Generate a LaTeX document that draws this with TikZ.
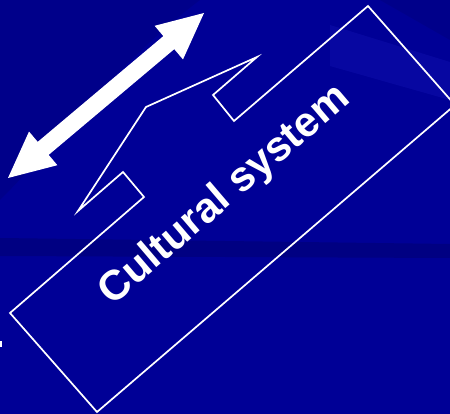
\documentclass[tikz,border=0pt]{standalone}
\usepackage{fontspec}
\setmainfont{Liberation Sans}
\usetikzlibrary{calc}
\definecolor{bgbase}{HTML}{000096}
\definecolor{bgdark}{HTML}{00008A}
\definecolor{bgband}{HTML}{000082}
\definecolor{bglight}{HTML}{0B0BA6}
\begin{document}
\begin{tikzpicture}[x=1pt,y=-1pt,
  outline/.style={draw=white,line width=1.7pt,line join=miter},
  arrowshape/.style={fill=white},
  caption/.style={text=white,inner sep=0pt,anchor=base,font=\bfseries\fontsize{42}{50}\selectfont}]
\useasboundingbox (0,0) rectangle (450,414);
\clip (0,0) rectangle (450,414);
% background
\fill[bgbase] (0,0) rectangle (450,414);
\fill[bgdark] (0,0) -- (200,0) .. controls (120,60) and (60,140) .. (0,200) -- cycle;
\fill[bgdark] (380,0) -- (450,0) -- (450,40) -- cycle;
\fill[bglight,opacity=0.7] (330,25) -- (450,62) -- (450,100) -- (330,66) -- cycle;
\fill[bgband] (0,238) -- (450,244) -- (450,258) -- (0,256) -- cycle;
% small mark at left edge
\fill[white] (0,341) rectangle (1.5,347);
% double arrow
\coordinate (L) at (8,178);
\coordinate (R) at (204,13);
\coordinate (Rb) at ($(R)!46pt!(L)$);
\coordinate (Lb) at ($(L)!46pt!(R)$);
\fill[arrowshape] (R) -- ($(Rb)!22pt!90:(R)$) -- ($(Rb)!8.5pt!90:(R)$)
  -- ($(Lb)!8.5pt!-90:(L)$) -- ($(Lb)!22pt!-90:(L)$) -- (L)
  -- ($(Lb)!22pt!90:(L)$) -- ($(Lb)!8.5pt!90:(L)$)
  -- ($(Rb)!8.5pt!-90:(R)$) -- ($(Rb)!22pt!-90:(R)$) -- cycle;
% outline shape
\coordinate (A) at (10,313);
\coordinate (B) at (144,197);
\coordinate (C) at (123,172);
\coordinate (D) at (78,211);
\coordinate (E) at (146,107);
\coordinate (F) at (257,57);
\coordinate (G) at (213,95);
\coordinate (H) at (234,121);
\coordinate (I) at (368,6);
\coordinate (J) at (455,105);
\coordinate (K) at (97,412);
\draw[outline] (A) -- (B) -- (C) -- (D) -- (E) -- (F) -- (G) -- (H) -- (I) -- (J) -- (K) -- cycle;
% label
\node[caption,rotate=40.5] (cs) at (232,204) {Cultural system};
\end{tikzpicture}
\end{document}
